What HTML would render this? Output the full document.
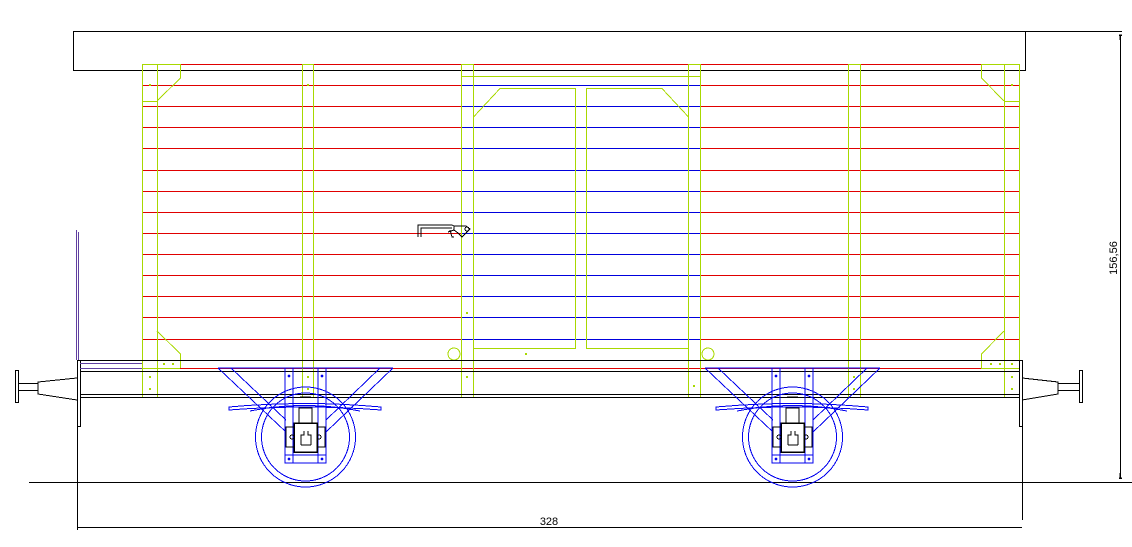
<!DOCTYPE html>
<html><head><meta charset="utf-8"><style>
html,body{margin:0;padding:0;background:#fff;}
svg{display:block;}
text{font-family:"Liberation Sans",sans-serif;}
</style></head><body>
<svg width="1132" height="547" viewBox="0 0 1132 547" xmlns="http://www.w3.org/2000/svg" shape-rendering="crispEdges">
<defs>
<g id="bogie" fill="none" stroke="#0000ee" stroke-width="1">
  <circle cx="305.5" cy="437" r="50"/>
  <circle cx="305.5" cy="437" r="44"/>
  <!-- diagonals -->
  <path d="M218,368 L286,432 M231,368 L286,420"/>
  <path d="M393,368 L326,432 M380,368 L326,420"/>
  <path d="M218,368 H393"/>
  <!-- leaf spring -->
  <path d="M229,407 Q305,400 381,407 L381,410 Q305,404 229,410 Z"/>
  <path d="M250,411 Q305,400 360,411"/>
  <!-- hangers -->
  <rect x="285" y="368" width="8" height="95"/>
  <rect x="318" y="368" width="8" height="95"/>
  <rect x="285" y="455" width="41" height="8"/>
  <circle cx="289" cy="376" r="0.8"/><circle cx="322" cy="376" r="0.8"/>
  <circle cx="289" cy="459" r="0.8"/><circle cx="322" cy="459" r="0.8"/>
</g>
<g id="axlebox" fill="none" stroke="#000" stroke-width="1">
  <rect x="299" y="408" width="13" height="15"/>
  <rect x="294" y="423" width="23" height="29" stroke-width="1.5"/>
  <rect x="286" y="427" width="8" height="20"/>
  <rect x="317" y="427" width="8" height="20"/>
  <path d="M301,445 V435 H304 V431 M311,445 V435 H308 V431 M301,445 H311"/>
  <circle cx="292" cy="437" r="2"/><circle cx="319" cy="437" r="2"/>
  <path d="M300,397 H311" stroke-width="1.5"/>
</g>
</defs>

<!-- roof -->
<rect x="73.5" y="31.5" width="952" height="39" fill="none" stroke="#000"/>
<path d="M1025,31.5 H1122" stroke="#000"/>

<!-- red planks -->
<g stroke="#e00000" stroke-width="1">
  <path d="M142,64.5 H1019"/>
  <path d="M142,85.5 H1019 M142,106.5 H1019 M142,127.5 H1019 M142,148.5 H1019 M142,170.5 H1019 M142,191.5 H1019 M142,212.5 H1019 M142,233.5 H1019 M142,254.5 H1019 M142,275.5 H1019 M142,296.5 H1019 M142,317.5 H1019 M142,339.5 H1019"/>
  <path d="M142,368.5 H1019"/>
  <path d="M142.5,64 V368 M1019.5,64 V368"/>
</g>
<!-- blue door planks -->
<g stroke="#0000dd" stroke-width="1">
  <path d="M461,85.5 H700 M461,106.5 H700 M461,127.5 H700 M461,148.5 H700 M461,170.5 H700 M461,191.5 H700 M461,212.5 H700 M461,233.5 H700 M461,254.5 H700 M461,275.5 H700 M461,296.5 H700 M461,317.5 H700 M461,339.5 H700"/>
</g>
<!-- green frame -->
<g stroke="#a8d800" stroke-width="1" fill="none">
  <rect x="142.5" y="64.5" width="15" height="333"/>
  <path d="M157,64.5 H180.5 V78 L157,101 M142,101.5 H157"/>
  <path d="M157,331 L180.5,354 V368 M142,368.5 H180"/>
  <rect x="1004.5" y="64.5" width="15" height="333"/>
  <path d="M1004,64.5 H981.5 V78 L1004,101 M1004,101.5 H1019"/>
  <path d="M1004,331 L981.5,354 V368 M981,368.5 H1019"/>
  <rect x="302.5" y="64.5" width="11" height="333"/>
  <rect x="461.5" y="64.5" width="12" height="333"/>
  <rect x="688.5" y="64.5" width="12" height="333"/>
  <rect x="848.5" y="64.5" width="12" height="333"/>
  <path d="M461,76.5 H700"/>
  <path d="M473.5,117 L500,88.5 H575.5 V348.5 H473.5"/>
  <path d="M688.5,117 L662,88.5 H586.5 V348.5 H688.5"/>
  <circle cx="454" cy="354" r="6"/>
  <circle cx="708" cy="354" r="6"/>
</g>
<!-- green bolts -->
<g fill="#a8d800">
  <rect x="149" y="84" width="2" height="2"/><rect x="149" y="376" width="2" height="2"/><rect x="149" y="388" width="2" height="2"/><rect x="163" y="363" width="2" height="2"/><rect x="172" y="363" width="2" height="2"/>
  <rect x="307" y="84" width="2" height="2"/><rect x="307" y="376" width="2" height="2"/><rect x="307" y="388" width="2" height="2"/>
  <rect x="466" y="376" width="2" height="2"/><rect x="466" y="312" width="2" height="2"/><rect x="525" y="353" width="2" height="2"/>
  <rect x="693" y="385" width="2" height="2"/>
  <rect x="1011" y="84" width="2" height="2"/><rect x="1011" y="363" width="2" height="2"/><rect x="1011" y="376" width="2" height="2"/><rect x="1011" y="388" width="2" height="2"/><rect x="990" y="363" width="2" height="2"/><rect x="999" y="363" width="2" height="2"/>
  <rect x="853" y="376" width="2" height="2"/><rect x="853" y="388" width="2" height="2"/>
</g>

<!-- underframe -->
<g stroke="#000" stroke-width="1" fill="none">
  <path d="M80,360.5 H1019 M80,371.5 H1019 M80,394.5 H1019 M80,397.5 H1019"/>
  <rect x="77.5" y="360.5" width="3" height="66"/>
  <rect x="1019.5" y="360.5" width="3" height="66"/>
  <!-- left buffer -->
  <path d="M77,378 L38,382 V394 L77,400"/>
  <path d="M18,383.5 H38 M18,390.5 H38"/>
  <rect x="15.5" y="370.5" width="3" height="32"/>
  <!-- right buffer -->
  <path d="M1022,378 L1058,382 V394 L1022,400"/>
  <path d="M1058,383.5 H1079 M1058,390.5 H1079"/>
  <rect x="1079.5" y="370.5" width="3" height="32"/>
  <!-- ground & dims -->
  <path d="M29,482.5 H1132"/>
  <path d="M77.5,426 V530 M1022.5,426 V520"/>
  <path d="M77,527.5 H1022"/>
  <path d="M1120.5,35 V478"/>
  <path d="M1119,35 H1122 M1119,478 H1122 M1120,35 V40 M1120,473 V478" stroke-width="1.5"/>
  <!-- handle -->
  <path d="M418,237 V225 H452 L454,226 V230 L448,232 M421,237 V228 H452"/>
  <path d="M454,226 H466 L470,229 L466,233 L462,237 L458,233 L454,230"/>
  <circle cx="467" cy="229" r="2"/>
  <path d="M450,230 L452,237 H454"/>
</g>
<g stroke="#6040a0" fill="none">
  <path d="M76.5,230 V360 M78.5,232 V360 M80,363.5 H142 M80,368.5 H142"/>
</g>

<use href="#bogie"/>
<use href="#axlebox"/>
<g transform="translate(487,0)"><use href="#bogie"/><use href="#axlebox"/></g>

<text x="549" y="525" font-size="11" text-anchor="middle">328</text>
<text x="0" y="0" font-size="11" text-anchor="middle" transform="translate(1117,258) rotate(-90)">156,56</text>
</svg>
</body></html>
